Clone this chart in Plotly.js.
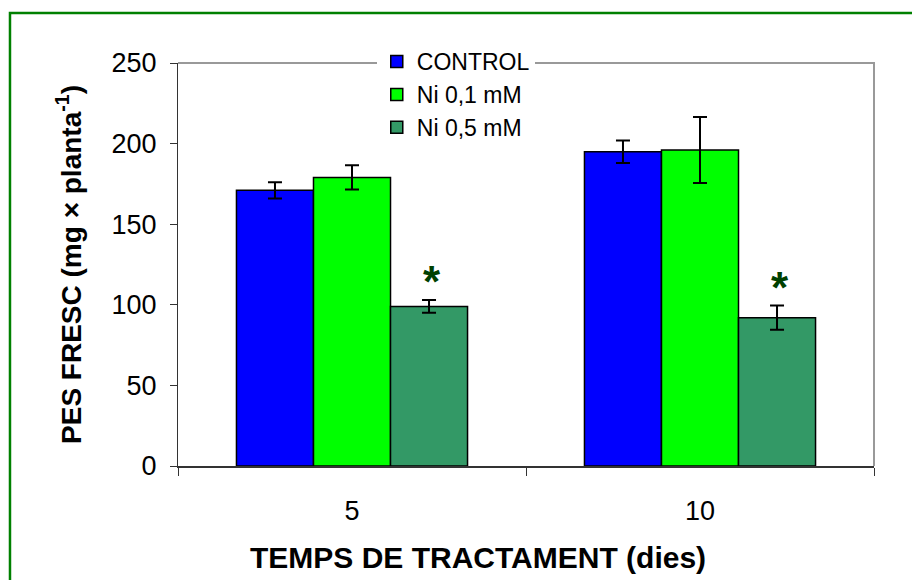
<!DOCTYPE html>
<html>
<head>
<meta charset="utf-8">
<script src="https://cdn.plot.ly/plotly-3.0.1.min.js"></script>
<style>
  html, body { margin: 0; padding: 0; background: #fff; }
  #chart { width: 912px; height: 580px; }
</style>
</head>
<body>
<div id="chart"></div>
<script>
// Fresh weight per plant by treatment time and Ni dose
const days = ['5', '10'];
const seriesNames = ['CONTROL', 'Ni 0,1 mM', 'Ni 0,5 mM'];
const control = [171, 195];
const ni01 = [179, 196];
const ni05 = [99, 92];
const controlErr = [5, 7];
const ni01Err = [7.5, 20.5];
const ni05Err = [4, 7.5];
const ni05Significant = [true, true];

const xTitle = '<b>TEMPS DE TRACTAMENT (dies)</b>';
const yTitle = '<b>PES FRESC (mg × planta<sup>-1</sup>)</b>';

const colors = ['#0000FF', '#00FF00', '#339966'];
const font = 'Liberation Sans, Arial, sans-serif';

const values = [control, ni01, ni05];
const errors = [controlErr, ni01Err, ni05Err];

const traces = seriesNames.map((name, i) => ({
  type: 'bar',
  name: name,
  x: days,
  y: values[i],
  marker: { color: colors[i], line: { color: '#000', width: 1.5 } },
  error_y: { type: 'data', array: errors[i], visible: true, color: '#000', thickness: 2, width: 7 },
  hoverinfo: 'x+y+name'
}));

// asterisks above the significant Ni 0,5 mM bars
const barOffset = 0.231;
const annotations = [];
days.forEach((d, i) => {
  if (ni05Significant[i]) {
    annotations.push({
      x: i + barOffset, xref: 'x',
      y: ni05[i] + ni05Err[i], yref: 'y',
      text: '<b>*</b>', showarrow: false,
      yanchor: 'bottom', yshift: -8,
      font: { family: font, size: 44, color: '#004000' }
    });
  }
});

// x-axis title, set slightly left of the axis centre
annotations.push({
  x: 0.431, xref: 'paper', y: -0.226, yref: 'paper',
  xanchor: 'center', yanchor: 'middle', showarrow: false,
  text: xTitle,
  font: { family: font, size: 30, color: '#000' }
});

const layout = {
  width: 912, height: 580,
  margin: { l: 178, r: 38, t: 63, b: 114 },
  paper_bgcolor: '#fff', plot_bgcolor: '#fff',
  font: { family: font, size: 23, color: '#000' },
  barmode: 'group',
  bargap: 0.336, bargroupgap: 0,
  showlegend: true,
  legend: {
    x: 0.2856, xanchor: 'left', y: 1.057, yanchor: 'top',
    bgcolor: '#fff', borderwidth: 0,
    itemwidth: 30,
    font: { family: font, size: 23, color: '#000' }
  },
  xaxis: {
    type: 'category',
    tickson: 'boundaries',
    ticks: 'outside', ticklen: 8, tickcolor: '#333', tickwidth: 1,
    showline: true, linecolor: '#333', linewidth: 1.5,
    showgrid: false, zeroline: false,
    ticklabelstandoff: 20,
    tickfont: { family: font, size: 27, color: '#000' },
    fixedrange: true
  },
  yaxis: {
    range: [0, 250],
    tickvals: [0, 50, 100, 150, 200, 250],
    ticks: 'outside', ticklen: 7, tickcolor: '#333', tickwidth: 1,
    showline: true, linecolor: '#333', linewidth: 1,
    showgrid: false, zeroline: false,
    ticklabelstandoff: 8,
    tickfont: { family: font, size: 27, color: '#000' },
    title: { text: yTitle, font: { family: font, size: 28, color: '#000' }, standoff: 21 },
    fixedrange: true
  },
  annotations: annotations,
  shapes: [
    // grey frame on the top and right of the plot area
    { type: 'path', xref: 'paper', yref: 'paper', path: 'M 0 1 L 1 1 L 1 0',
      line: { color: '#999', width: 2 }, layer: 'below' },
    // green outer border (top and left)
    { type: 'path', xref: 'paper', yref: 'paper',
      path: 'M -0.2414 -0.5 L -0.2414 1.1241 L 1.1 1.1241',
      line: { color: '#008000', width: 2.5 } }
  ]
};

Plotly.newPlot('chart', traces, layout, { displayModeBar: false, staticPlot: true });
</script>
</body>
</html>
